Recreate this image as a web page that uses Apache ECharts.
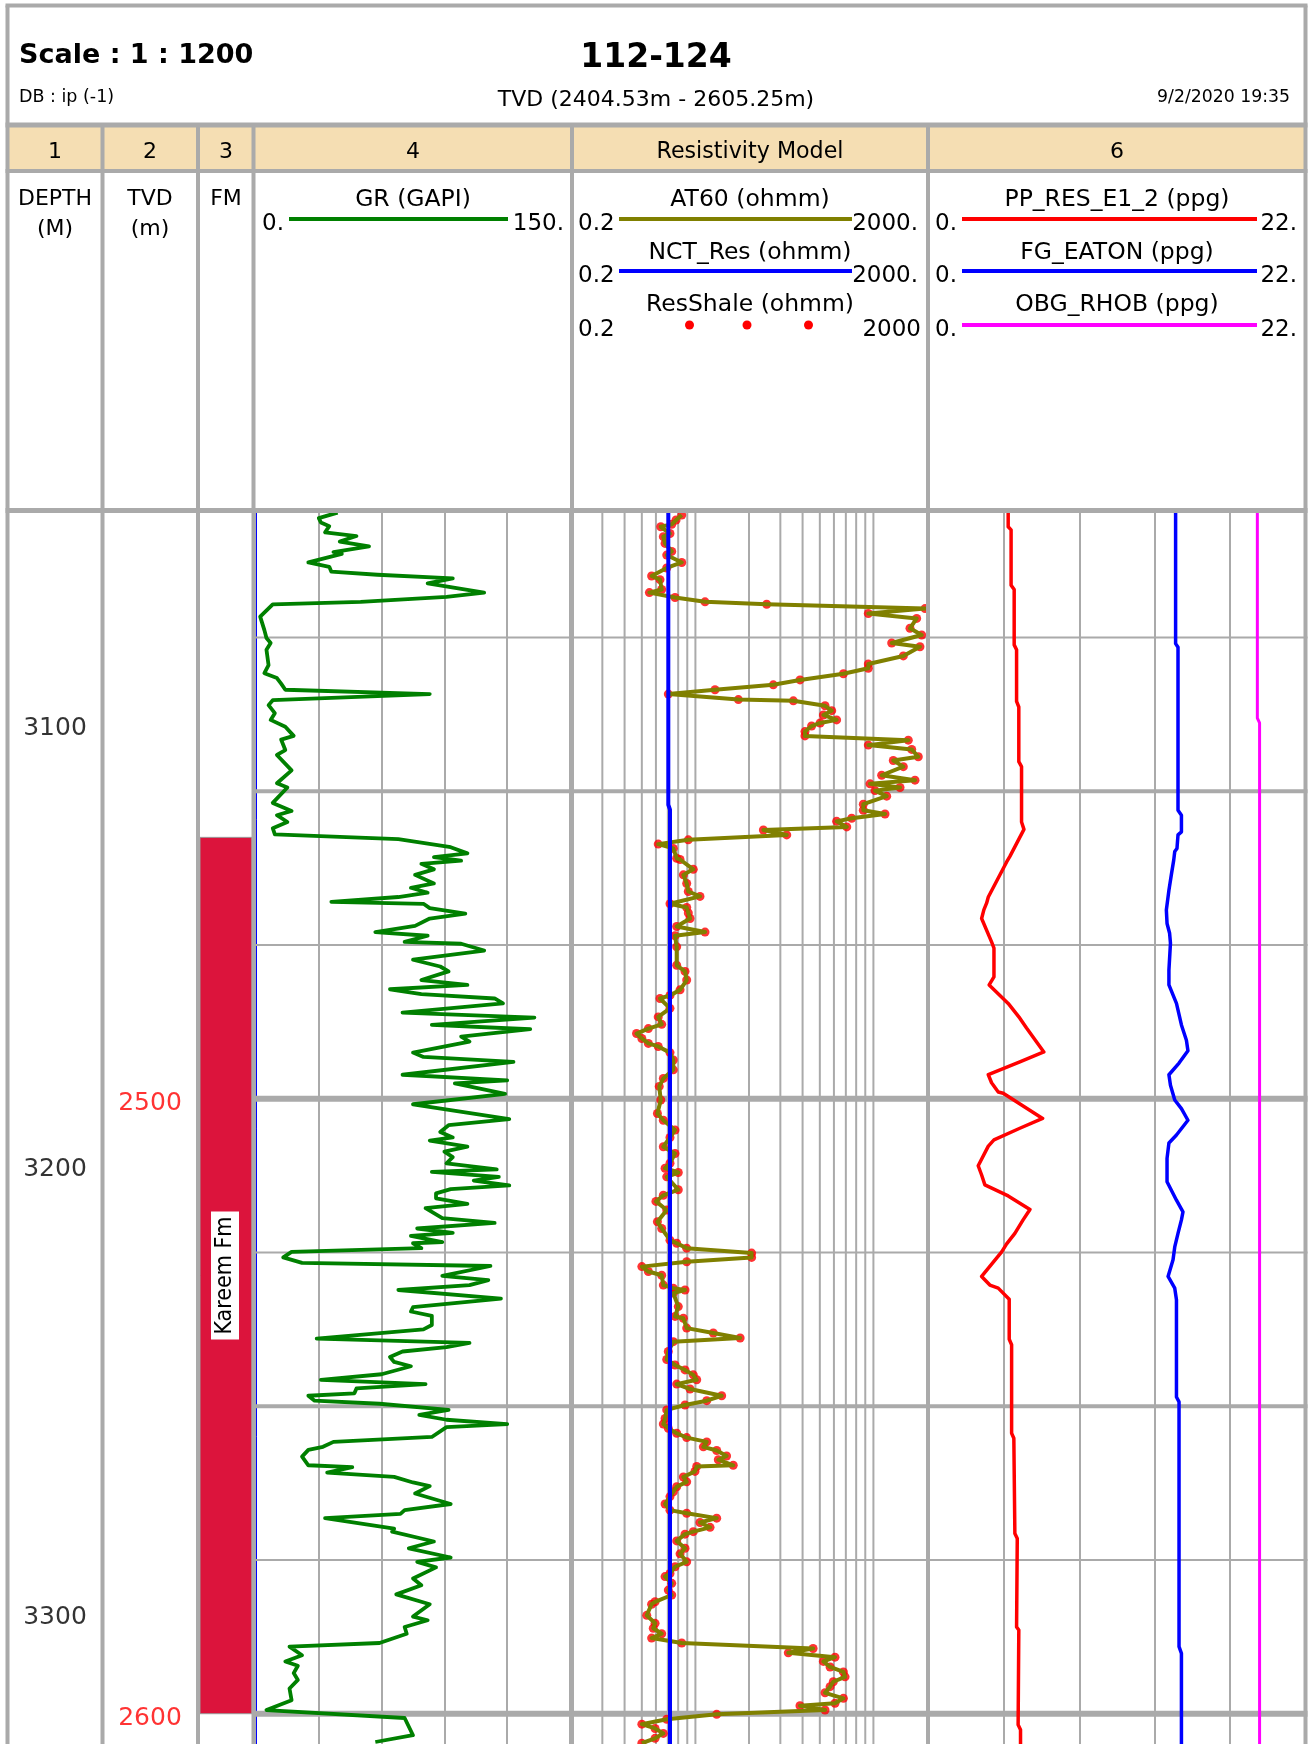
<!DOCTYPE html>
<html>
<head>
<meta charset="utf-8">
<title>112-124 log</title>
<script src="https://cdn.jsdelivr.net/npm/echarts@6/dist/echarts.min.js"></script>
<style>
  html, body { margin: 0; padding: 0; background: #fff; }
  #chart { width: 1310px; height: 1744px; }
</style>
</head>
<body>
<div id="chart"></div>
<script>
// ---- depth range (TVD, m) ----
const TVD_TOP = 2404.53;
const TVD_BASE = 2605.25;

// ---- depth track annotations ----
const mdMarkers = [3100, 3200, 3300];          // measured depth labels
const mdMarkerTvd = [2439.4, 2511.1, 2584.0];   // TVD where each MD label sits
const tvdMarkers = [2500, 2600];
const hGridDepths = [2425, 2450, 2475, 2500, 2525, 2550, 2575, 2600];

// ---- formations ----
const fmNames = ['Kareem Fm'];
const fmTop = [2457.5];
const fmBase = [2600.0];

// ---- resistivity grid (2-decade log grid) ----
const resGridValues = [1.5, 2, 2.5, 3, 3.5, 4, 4.5, 5, 10, 15, 20, 25, 30, 35, 40, 45, 50];

// ---- curves: [TVD, value] ----
const grData = [
[2404.7,39],[2405.6,30],[2406.3,31],[2406.9,35],[2407.9,33],[2408.5,48],[2409.4,40],[2410.2,54],[2411.1,37],[2411.4,41],
[2412.8,25],[2413.5,35],[2414.3,36],[2414.8,58],[2415.4,94],[2416.2,82],[2417.7,109],[2418.4,91],[2419.2,50],[2419.6,8],
[2421.6,2],[2423.8,4],[2425.1,5],[2425.9,7],[2427.0,5],[2429.5,6],[2430.8,4],[2431.6,10],[2432.5,12],[2433.5,14],
[2434.2,83],[2435.2,8],[2436.0,6],[2437.3,9],[2438.4,7],[2439.5,14],[2441.0,18],[2441.6,12],[2443.3,14],[2444.1,10],
[2446.6,17],[2448.7,10],[2449.4,15],[2451.9,8],[2453.2,17],[2453.9,10],[2455.0,15],[2456.0,8],[2457.0,9],[2457.8,68],
[2459.1,93],[2460.1,101],[2460.7,85],[2461.3,98],[2461.8,79],[2462.7,85],[2463.6,76],[2465.0,85],[2465.7,74],[2466.5,82],
[2467.2,68],[2468.0,36],[2468.3,80],[2469.0,83],[2469.9,100],[2470.7,83],[2471.9,76],[2472.9,57],[2473.5,82],[2474.5,71],
[2474.8,98],[2475.9,109],[2477.4,75],[2478.5,88],[2479.3,92],[2480.7,79],[2481.5,101],[2482.2,64],[2483.0,79],[2483.7,114],
[2484.5,118],[2486.0,70],[2486.8,133],[2488.0,84],[2488.7,131],[2489.9,98],[2490.7,102],[2492.5,75],[2493.2,80],[2494.0,123],
[2496.1,70],[2497.0,120],[2497.5,95],[2499.2,119],[2500.9,75],[2503.3,121],[2504.3,92],[2505.4,88],[2506.3,94],[2506.8,83],
[2507.8,101],[2508.6,90],[2509.5,94],[2510.5,91],[2511.5,115],[2511.9,84],[2512.7,116],[2513.3,104],[2514.1,121],[2514.7,93],
[2515.4,86],[2516.2,86],[2517.1,101],[2517.8,81],[2519.4,89],[2520.2,114],[2521.1,77],[2521.8,94],[2522.3,74],[2523.3,89],
[2523.5,75],[2524.3,79],[2524.9,17],[2525.8,13],[2526.7,22],[2527.2,112],[2528.8,89],[2529.5,111],[2530.3,102],[2531.1,68],
[2532.5,117],[2533.9,75],[2534.6,74],[2535.3,84],[2536.8,84],[2537.5,80],[2539.0,29],[2539.7,102],[2540.4,91],[2541.1,70],
[2542.0,64],[2542.8,66],[2543.5,74],[2544.8,60],[2545.7,31],[2546.4,81],[2547.1,48],[2547.9,47],[2548.3,25],[2549.1,28],
[2549.6,59],[2550.6,92],[2551.4,78],[2552.2,91],[2552.9,120],[2553.4,91],[2555.0,84],[2555.8,37],[2556.6,32],[2557.1,25],
[2558.2,22],[2559.6,25],[2559.9,46],[2560.8,34],[2561.5,66],[2562.4,75],[2563.0,83],[2564.2,76],[2565.9,93],[2566.9,71],
[2567.5,69],[2568.2,33],[2569.9,66],[2570.4,65],[2572.0,85],[2573.1,73],[2574.6,93],[2575.3,77],[2576.2,86],[2578.0,75],
[2579.1,79],[2580.6,67],[2582.2,83],[2584.2,75],[2584.8,82],[2585.9,71],[2587.0,72],[2588.5,59],[2589.1,16],[2590.5,22],
[2591.5,14],[2592.2,20],[2593.4,18],[2594.5,20],[2595.9,16],[2597.8,17],[2599.4,5],[2600.7,71],[2603.5,75],[2604.6,57]
];

const at60Data = [
[2405.1,3.51],[2405.9,3.03],[2406.6,2.71],[2407.0,2.04],[2408.1,2.59],[2408.6,2.18],[2409.7,2.28],[2411.0,2.71],[2411.6,2.38],[2412.8,3.51],
[2413.7,2.38],[2415.0,1.61],[2415.6,2.0],[2417.2,2.09],[2417.7,1.52],[2418.5,2.95],[2419.2,6.41],[2419.6,31.6],[2420.3,1901],[2421.1,438],
[2421.9,1531],[2423.5,1288],[2424.6,1742],[2425.9,802],[2426.5,1667],[2428.0,1084],[2429.3,438],[2430.0,438],[2430.9,230],[2431.9,74.8],
[2432.7,37.5],[2433.5,8.30],[2434.2,2.48],[2435.1,15.2],[2435.3,63.0],[2436.1,143],[2436.9,170],[2437.6,137],[2438.4,193],[2438.9,126],
[2439.4,101],[2440.3,85.1],[2441.0,85.1],[2441.7,1233],[2442.5,438],[2443.2,1346],[2444.4,1596],[2445.0,836],[2446.0,1084],[2447.4,619],
[2448.2,1466],[2448.8,458],[2449.4,995],[2449.9,521],[2450.8,705],[2452.1,385],[2453.1,385],[2453.7,675],[2454.4,285],[2454.9,193],
[2455.8,251],[2456.3,29.0],[2457.1,53.1],[2457.9,4.16],[2458.6,1.91],[2459.3,2.82],[2460.9,3.08],[2461.1,3.36],[2462.7,4.73],[2463.6,3.66],
[2465.0,3.99],[2466.3,4.16],[2467.1,5.63],[2468.3,2.59],[2468.9,3.99],[2469.8,4.16],[2470.7,4.35],[2472.0,3.08],[2472.9,6.41],[2473.5,2.95],
[2475.3,3.08],[2478.3,3.08],[2479.3,3.82],[2480.7,3.99],[2482.3,3.36],[2483.2,2.59],[2483.7,2.0],[2485.3,2.59],[2486.7,1.91],[2487.9,2.09],
[2488.6,1.48],[2489.4,1.09],[2490.2,1.25],[2491.0,1.48],[2491.5,1.91],[2492.5,2.59],[2493.7,2.82],[2495.3,2.82],[2496.7,2.18],[2498.0,1.96],
[2500.2,2.04],[2502.4,1.87],[2503.5,2.18],[2505.1,2.95],[2506.3,2.59],[2507.8,2.18],[2508.9,2.95],[2510.5,2.59],[2511.3,2.28],[2512.0,3.21],
[2512.7,2.38],[2514.8,3.21],[2515.7,2.18],[2516.7,1.80],[2518.1,2.38],[2520.0,1.87],[2521.1,2.09],[2523.0,2.59],[2523.5,3.08],[2524.3,3.99],
[2525.1,21.4],[2525.8,21.4],[2526.5,3.99],[2527.3,1.25],[2528.1,1.48],[2528.7,2.09],[2530.3,2.18],[2530.8,2.82],[2531.1,3.82],[2531.6,2.82],
[2533.8,3.21],[2535.4,2.95],[2535.7,3.66],[2537.3,3.99],[2538.1,7.94],[2538.9,15.9],[2539.5,2.82],[2541.1,2.48],[2542.4,2.38],[2543.3,2.95],
[2544.1,3.82],[2544.9,4.73],[2545.7,5.17],[2546.4,3.08],[2547.2,4.35],[2548.3,9.86],[2549.1,6.70],[2549.8,3.82],[2550.6,2.38],[2552.0,2.28],
[2552.9,2.18],[2553.6,2.48],[2554.4,3.08],[2555.1,3.99],[2555.8,6.70],[2556.6,6.14],[2557.2,8.67],[2558.1,11.2],[2558.7,9.04],[2559.6,13.3],
[2559.8,5.17],[2560.6,4.94],[2561.5,3.66],[2562.3,3.99],[2563.1,3.08],[2563.9,2.82],[2564.7,2.59],[2565.9,2.28],[2566.9,2.59],[2567.4,3.99],
[2568.2,8.67],[2568.9,5.63],[2569.7,7.30],[2570.4,4.73],[2570.8,3.82],[2571.9,3.08],[2573.1,3.82],[2574.0,3.36],[2575.3,3.99],[2576.1,2.95],
[2577.2,2.59],[2577.7,2.28],[2578.8,2.71],[2579.9,2.48],[2580.7,2.71],[2581.8,1.76],[2582.2,1.61],[2584.0,1.42],[2585.3,1.76],[2586.1,1.68],
[2587.0,2.09],[2587.7,1.61],[2588.5,3.51],[2589.4,105],[2590.1,55.3],[2590.8,185],[2591.5,137],[2592.4,163],[2593.2,230],[2594.0,240],
[2594.8,177],[2595.6,163],[2596.6,143],[2597.5,230],[2598.3,185],[2598.7,74.8],[2599.4,143],[2600.1,8.67],[2600.9,2.38],[2601.7,1.25],
[2602.4,1.76],[2603.2,2.18],[2604.0,1.76],[2604.8,1.25]
];
// shale resistivity picks are taken at the AT60 sample points
const resShaleData = at60Data;

const nctData = [[2404.53,2.48],[2452.2,2.48],[2453.0,2.59],[2605.25,2.59]];

const ppData = [
[2404.53,4.65],[2407.0,4.65],[2407.5,4.82],[2416.5,4.82],[2417.2,5.0],[2426.2,5.0],[2427.0,5.14],[2435.4,5.14],[2436.3,5.27],[2445.2,5.27],
[2446.0,5.43],[2455.0,5.43],[2456.2,5.57],[2460.6,4.75],[2461.5,4.56],[2467.2,3.49],[2468.2,3.39],[2469.3,3.23],[2470.7,3.10],[2474.5,3.68],
[2475.5,3.82],[2480.2,3.82],[2481.5,3.54],[2484.5,4.65],[2486.9,5.33],[2488.5,5.72],[2492.4,6.73],[2494.0,5.33],[2496.1,3.49],[2497.4,3.68],
[2498.9,4.07],[2499.1,4.36],[2503.2,6.66],[2504.8,5.33],[2506.7,3.82],[2507.7,3.49],[2510.9,2.90],[2512.4,3.10],[2514.0,3.29],[2515.8,4.65],
[2518.0,5.92],[2519.7,5.52],[2521.9,5.04],[2523.6,4.56],[2524.9,4.27],[2528.9,3.10],[2530.3,3.58],[2530.8,4.07],[2532.6,4.71],[2539.1,4.71],
[2540.0,4.85],[2554.4,4.85],[2555.2,4.98],[2570.7,5.04],[2571.5,5.18],[2585.9,5.14],[2586.4,5.27],[2601.8,5.23],[2602.6,5.37],[2605.25,5.37]
];

const fgData = [
[2404.53,14.42],[2426.0,14.42],[2426.6,14.56],[2453.1,14.56],[2453.9,14.76],[2456.6,14.76],[2457.1,14.56],[2459.3,14.50],[2459.8,14.37],[2461.2,14.31],
[2463.6,14.17],[2466.1,14.03],[2469.3,13.88],[2471.5,13.92],[2473.1,14.07],[2474.7,14.12],[2479.1,14.03],[2481.5,14.03],[2484.5,14.47],[2488.0,14.76],
[2490.5,15.05],[2492.2,15.14],[2494.2,14.62],[2496.1,14.03],[2497.8,14.12],[2500.2,14.37],[2501.6,14.76],[2503.5,15.14],[2505.9,14.47],[2507.2,14.03],
[2509.7,13.92],[2513.5,13.92],[2516.5,14.47],[2518.4,14.85],[2519.7,14.76],[2521.9,14.56],[2524.1,14.37],[2526.2,14.27],[2528.9,13.98],[2530.8,14.37],
[2532.7,14.47],[2548.5,14.47],[2549.3,14.62],[2589.1,14.62],[2590.2,14.76],[2605.25,14.76]
];

const obgData = [[2404.53,19.19],[2438.1,19.19],[2438.9,19.32],[2605.25,19.32]];

// ---- layout ----
const FONT = '"DejaVu Sans", Verdana, sans-serif';
const FONT_NARROW = '"DejaVu Sans Condensed", "DejaVu Sans", sans-serif';
const GRAY = '#aaaaaa';
const GRID_TOP = 511.6;
const GRID_H = 1234.4;
const TEXT_DY = 2.5;   // baseline nudge for header text
const TRACKS = [
  { left: 8, width: 94 },       // MD
  { left: 102, width: 96 },     // TVD
  { left: 198, width: 56 },     // FM
  { left: 256, width: 314 },    // GR
  { left: 571, width: 356 },    // resistivity
  { left: 928.5, width: 377 }   // pressure
];
const SEPARATORS = [102.5, 198, 253.5, 572, 928];

function txt(x, y, s, size, opt) {
  opt = opt || {};
  const align = opt.align || 'center';
  return {
    type: 'text', x: x, y: y + TEXT_DY, z: 120, silent: true,
    style: {
      text: s, fill: opt.color || '#000',
      font: (opt.bold ? 'bold ' : '') + size + 'px ' + FONT,
      align: align, textAlign: align, verticalAlign: 'middle', textVerticalAlign: 'middle'
    }
  };
}
function line(x1, y1, x2, y2, w, color, z) {
  return { type: 'line', z: z || 110, silent: true,
    shape: { x1: x1, y1: y1, x2: x2, y2: y2 },
    style: { stroke: color || GRAY, lineWidth: w } };
}
function dot(x, y, r, color) {
  return { type: 'circle', z: 120, silent: true, shape: { cx: x, cy: y, r: r }, style: { fill: color } };
}

const graphics = [];
// header band fill
graphics.push({ type: 'rect', z: 1, silent: true, shape: { x: 9, y: 127, width: 1295, height: 42 }, style: { fill: '#f5deb3' } });
// frame
graphics.push(line(5.5, 5.5, 1307.5, 5.5, 4));
graphics.push(line(7.5, 5.5, 7.5, 1744, 4));
graphics.push(line(1305.5, 5.5, 1305.5, 1744, 4));
graphics.push(line(5.5, 125, 1307.5, 125, 5));
graphics.push(line(5.5, 171, 1307.5, 171, 4));
graphics.push(line(5.5, 510.5, 1307.5, 510.5, 5));
SEPARATORS.forEach(function (x) { graphics.push(line(x, 125, x, 1744, 4)); });

// title block
graphics.push(txt(19, 53.5, 'Scale : 1 : 1200', 27, { bold: true, align: 'left' }));
graphics.push(txt(656, 55.5, '112-124', 33, { bold: true }));
graphics.push(txt(19, 95, 'DB : ip (-1)', 17.5, { align: 'left' }));
graphics.push(txt(656, 97.5, 'TVD (2404.53m - 2605.25m)', 22));
graphics.push(txt(1290, 95, '9/2/2020 19:35', 17.3, { align: 'right' }));

// track numbers
graphics.push(txt(55, 150, '1', 22));
graphics.push(txt(150, 150, '2', 22));
graphics.push(txt(226, 150, '3', 22));
graphics.push(txt(413, 150, '4', 22));
graphics.push(txt(750, 150, 'Resistivity Model', 22.2));
graphics.push(txt(1117, 150, '6', 22));

// depth / fm headers
graphics.push(txt(55, 197, 'DEPTH', 22));
graphics.push(txt(55, 227, '(M)', 22));
graphics.push(txt(150, 197, 'TVD', 22));
graphics.push(txt(150, 227, '(m)', 22));
graphics.push(txt(226, 197, 'FM', 22));

// GR header
graphics.push(txt(413, 197, 'GR (GAPI)', 23.5));
graphics.push(txt(262, 222, '0.', 23, { align: 'left' }));
graphics.push(txt(564, 222, '150.', 23, { align: 'right' }));
graphics.push(line(289, 219, 508, 219, 4, '#008000'));

// resistivity header
graphics.push(txt(750, 197, 'AT60 (ohmm)', 23.5));
graphics.push(txt(578, 222, '0.2', 23, { align: 'left' }));
graphics.push(txt(918, 222, '2000.', 23, { align: 'right' }));
graphics.push(line(619, 219, 852, 219, 4, '#808000'));
graphics.push(txt(750, 250, 'NCT_Res (ohmm)', 23.5));
graphics.push(txt(578, 274, '0.2', 23, { align: 'left' }));
graphics.push(txt(918, 274, '2000.', 23, { align: 'right' }));
graphics.push(line(619, 271, 852, 271, 4, '#0000ff'));
graphics.push(txt(750, 302, 'ResShale (ohmm)', 23.5));
graphics.push(txt(578, 328, '0.2', 23, { align: 'left' }));
graphics.push(txt(921, 328, '2000', 23, { align: 'right' }));
graphics.push(dot(689.5, 325, 4.5, '#ff0000'));
graphics.push(dot(747, 325, 4.5, '#ff0000'));
graphics.push(dot(808.5, 325, 4.5, '#ff0000'));

// pressure header
graphics.push(txt(1117, 197, 'PP_RES_E1_2 (ppg)', 23.5));
graphics.push(txt(935, 222, '0.', 23, { align: 'left' }));
graphics.push(txt(1297, 222, '22.', 23, { align: 'right' }));
graphics.push(line(962, 219, 1257, 219, 4, '#ff0000'));
graphics.push(txt(1117, 250, 'FG_EATON (ppg)', 23.5));
graphics.push(txt(935, 274, '0.', 23, { align: 'left' }));
graphics.push(txt(1297, 274, '22.', 23, { align: 'right' }));
graphics.push(line(962, 271, 1257, 271, 4, '#0000ff'));
graphics.push(txt(1117, 302, 'OBG_RHOB (ppg)', 23.5));
graphics.push(txt(935, 328, '0.', 23, { align: 'left' }));
graphics.push(txt(1297, 328, '22.', 23, { align: 'right' }));
graphics.push(line(962, 325, 1257, 325, 4, '#ff00ff'));

// ---- axes ----
const grids = TRACKS.map(function (t) {
  return { left: t.left, width: t.width, top: GRID_TOP, height: GRID_H, containLabel: false, outerBoundsMode: 'none' };
});

const yAxes = TRACKS.map(function (t, i) {
  const ax = { type: 'value', gridIndex: i, inverse: true, min: TVD_TOP, max: TVD_BASE, show: false };
  if (i === 3) {
    ax.show = true;
    ax.axisLine = { show: true, onZero: false, lineStyle: { color: '#0000ff', width: 1 } };
    ax.axisTick = { show: false };
    ax.axisLabel = { show: false };
    ax.splitLine = { show: false };
  }
  return ax;
});

function hiddenX(gi, extra) {
  return Object.assign({ gridIndex: gi, show: false, type: 'value' }, extra);
}
function gridX(gi, min, max, interval) {
  return {
    type: 'value', gridIndex: gi, min: min, max: max, interval: interval, position: 'top',
    axisLine: { show: false }, axisTick: { show: false }, axisLabel: { show: false },
    splitLine: { show: true, lineStyle: { color: GRAY, width: 2 } }
  };
}
const xAxes = [
  hiddenX(0, { min: 0, max: 1 }),                                        // 0 MD
  hiddenX(1, { min: 0, max: 1 }),                                        // 1 TVD
  hiddenX(2, { min: 0, max: 1 }),                                        // 2 FM
  gridX(3, 0, 150, 30),                                                  // 3 GR
  hiddenX(4, { type: 'log', logBase: 10, min: 0.2, max: 2000 }),         // 4 resistivity curves
  hiddenX(4, { type: 'log', logBase: 10, min: 1, max: 100 }),            // 5 resistivity grid
  gridX(5, 0, 22, 4.4)                                                   // 6 pressure
];

// horizontal depth grid inside a track
function hGridSeries(xi, yi, xRef) {
  return {
    type: 'custom', xAxisIndex: xi, yAxisIndex: yi, z: 1, silent: true,
    encode: { x: 0, y: 1 },
    data: hGridDepths.map(function (d) { return [xRef, d]; }),
    renderItem: function (params, api) {
      const cs = params.coordSys;
      const d = api.value(1);
      const y = api.coord([xRef, d])[1];
      const w = d % 100 === 0 ? 6 : (d % 50 === 0 ? 4 : 2);
      return { type: 'line', shape: { x1: cs.x - 2, y1: y, x2: cs.x + cs.width + 2, y2: y },
        style: { stroke: GRAY, lineWidth: w } };
    }
  };
}

function curve(xi, yi, data, color, width, z) {
  return {
    type: 'line', xAxisIndex: xi, yAxisIndex: yi, z: z || 5, silent: true,
    data: data.map(function (d) { return [d[1], d[0]]; }),
    showSymbol: false, symbol: 'none', clip: true,
    lineStyle: { color: color, width: width, join: 'round' }
  };
}

function depthLabels(gi, values, depths, color, dy) {
  return {
    type: 'scatter', xAxisIndex: gi, yAxisIndex: gi, z: 5, silent: true,
    symbolSize: 1, itemStyle: { color: 'rgba(0,0,0,0)' },
    data: values.map(function (v, i) { return [0.5, depths[i], v]; }),
    label: {
      show: true, position: 'inside', offset: [0, dy],
      formatter: function (p) { return String(p.data[2]); },
      color: color, fontSize: 25, fontFamily: FONT
    }
  };
}

const series = [
  depthLabels(0, mdMarkers, mdMarkerTvd, '#000000', 2.5),
  depthLabels(1, tvdMarkers, tvdMarkers, '#ff0000', 5),
  {
    type: 'custom', xAxisIndex: 2, yAxisIndex: 2, z: 5, silent: true,
    encode: { y: [0, 1] },
    data: fmTop.map(function (t, i) { return [t, fmBase[i], i]; }),
    renderItem: function (params, api) {
      const cs = params.coordSys;
      const y0 = api.coord([0.5, api.value(0)])[1];
      const y1 = api.coord([0.5, api.value(1)])[1];
      return {
        type: 'group',
        children: [
          { type: 'rect', shape: { x: cs.x + 2, y: y0, width: cs.width - 4, height: y1 - y0 },
            style: { fill: '#dc143c', stroke: '#9a9a9a', lineWidth: 1 } },
          { type: 'text', x: cs.x + cs.width / 2 - 1, y: (y0 + y1) / 2, rotation: Math.PI / 2,
            style: { text: fmNames[api.value(2)], fill: '#000', font: '23px ' + FONT_NARROW,
              align: 'center', verticalAlign: 'middle', backgroundColor: '#ffffff', padding: [3, 5, 2, 5] } }
        ]
      };
    }
  },
  // GR track
  hGridSeries(3, 3, 75),
  curve(3, 3, grData, '#008000', 3.8),
  // resistivity track
  hGridSeries(4, 4, 1),
  {
    type: 'custom', xAxisIndex: 5, yAxisIndex: 4, z: 1, silent: true,
    encode: { x: 0, y: 1 },
    data: resGridValues.map(function (v) { return [v, TVD_TOP]; }),
    renderItem: function (params, api) {
      const cs = params.coordSys;
      const x = api.coord([api.value(0), TVD_TOP])[0];
      return { type: 'line', shape: { x1: x, y1: cs.y, x2: x, y2: cs.y + cs.height },
        style: { stroke: GRAY, lineWidth: 2 } };
    }
  },
  {
    type: 'scatter', xAxisIndex: 4, yAxisIndex: 4, z: 4, silent: true,
    symbol: 'circle', symbolSize: 9, itemStyle: { color: '#ff0000' },
    data: resShaleData.map(function (d) { return [d[1], d[0]]; })
  },
  curve(4, 4, at60Data, '#808000', 4, 5),
  curve(4, 4, nctData, '#0000ff', 4, 6),
  // pressure track
  hGridSeries(6, 5, 11),
  curve(6, 5, ppData, '#ff0000', 3.5),
  curve(6, 5, fgData, '#0000ff', 3.5),
  curve(6, 5, obgData, '#ff00ff', 3)
];

const chart = echarts.init(document.getElementById('chart'), null, { renderer: 'canvas', width: 1310, height: 1744 });
chart.setOption({
  animation: false,
  backgroundColor: '#ffffff',
  grid: grids,
  xAxis: xAxes,
  yAxis: yAxes,
  series: series,
  graphic: { elements: graphics }
});
</script>
</body>
</html>
